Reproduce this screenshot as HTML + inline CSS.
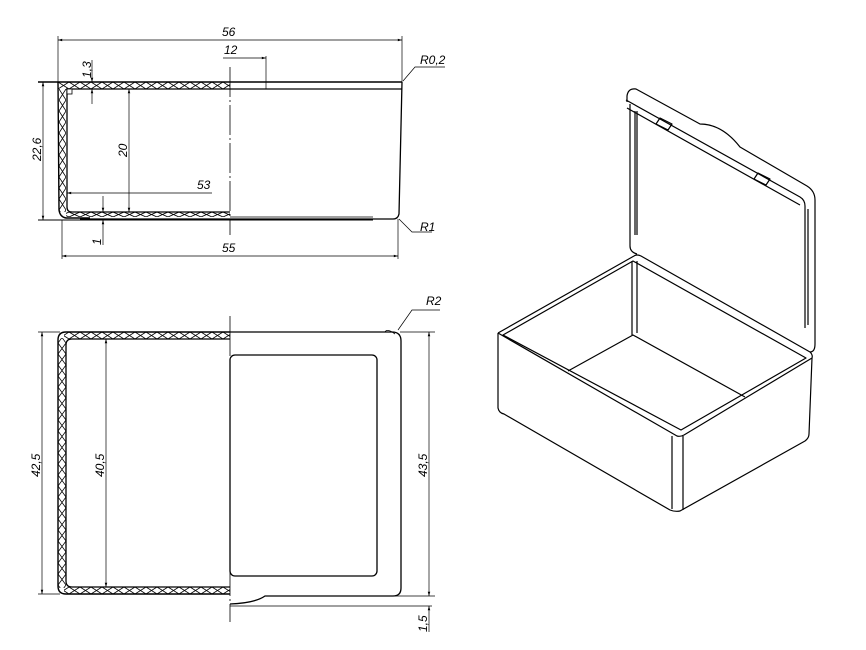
<!DOCTYPE html>
<html><head><meta charset="utf-8"><style>
html,body{margin:0;padding:0;background:#fff;}
svg{display:block;}
text{font-family:"Liberation Sans",sans-serif;font-size:12px;font-style:italic;fill:#000;}
</style></head><body>
<svg width="866" height="650" viewBox="0 0 866 650" xmlns="http://www.w3.org/2000/svg">
<defs>
<pattern id="hh" x="58" y="82" width="11" height="7" patternUnits="userSpaceOnUse">
<path d="M0 0L11 7M11 0L0 7" stroke="#000" stroke-width="0.8"/>
</pattern>
<pattern id="hh2" x="58" y="212" width="11" height="5" patternUnits="userSpaceOnUse">
<path d="M0 0L11 5M11 0L0 5" stroke="#000" stroke-width="0.8"/>
</pattern>
<pattern id="hv" x="59" y="89" width="7" height="11" patternUnits="userSpaceOnUse">
<path d="M0 0L7 11M7 0L0 11" stroke="#000" stroke-width="0.8"/>
</pattern>
<pattern id="bh" x="58" y="332" width="11" height="7" patternUnits="userSpaceOnUse">
<path d="M0 0L11 7M11 0L0 7" stroke="#000" stroke-width="0.8"/>
</pattern>
<pattern id="bh2" x="58" y="587" width="11" height="7" patternUnits="userSpaceOnUse">
<path d="M0 0L11 7M11 0L0 7" stroke="#000" stroke-width="0.8"/>
</pattern>
<pattern id="bv" x="58" y="332" width="8" height="11" patternUnits="userSpaceOnUse">
<path d="M0 0L8 11M8 0L0 11" stroke="#000" stroke-width="0.8"/>
</pattern>
<marker id="a" viewBox="0 0 10 10" refX="10" refY="5" markerWidth="8" markerHeight="6" orient="auto-start-reverse"><path d="M0 2L10 5L0 8z" fill="#000"/></marker>
</defs>
<g fill="none" stroke="#000" stroke-width="1">
<!-- TOP SECTION VIEW -->
<line x1="58" y1="40" x2="402" y2="40" marker-start="url(#a)" marker-end="url(#a)" stroke-width="0.7"/>
<line x1="58" y1="36" x2="58" y2="84" stroke-width="0.7"/>
<line x1="402" y1="36" x2="402" y2="82" stroke-width="0.7"/>
<line x1="223" y1="58" x2="266" y2="58" marker-end="url(#a)" stroke-width="0.7"/>
<line x1="266" y1="56" x2="266" y2="89" stroke-width="0.7"/>
<rect x="58" y="82" width="172" height="7" fill="url(#hh)" stroke="none"/>
<rect x="59" y="89" width="7" height="123" fill="url(#hv)" stroke="none"/>
<rect x="66" y="212" width="164" height="5" fill="url(#hh2)" stroke="none"/>
<line x1="38" y1="82" x2="402" y2="82" stroke-width="1.5"/>
<line x1="66" y1="89" x2="402" y2="89" stroke-width="1.3"/>
<path d="M58 82 L59 210 Q60 217 66 218 L90 218" stroke-width="1.4"/>
<path d="M67 89 L67 207 Q67 212 72 212 L230 212" stroke-width="1.3"/>
<rect x="67" y="89" width="5" height="5" stroke-width="0.8" fill="#fff"/>
<path d="M402 82 L399 214 Q398 219 393 219 L80 219" stroke-width="1.3"/>
<line x1="38" y1="220" x2="373" y2="220" stroke-width="1"/>
<line x1="230" y1="217" x2="373" y2="217" stroke-width="0.8"/>
<line x1="230" y1="67" x2="230" y2="235" stroke-width="0.8" stroke-dasharray="30 3 2 3"/>
<line x1="43" y1="82" x2="43" y2="220" marker-start="url(#a)" marker-end="url(#a)" stroke-width="0.7"/>
<line x1="92" y1="60" x2="92" y2="82" marker-end="url(#a)" stroke-width="0.7"/>
<line x1="92" y1="104" x2="92" y2="89" marker-end="url(#a)" stroke-width="0.7"/>
<line x1="129" y1="89" x2="129" y2="212" marker-start="url(#a)" marker-end="url(#a)" stroke-width="0.7"/>
<line x1="212" y1="193" x2="67" y2="193" marker-end="url(#a)" stroke-width="0.7"/>
<line x1="103" y1="196" x2="103" y2="212" marker-end="url(#a)" stroke-width="0.7"/>
<line x1="103" y1="245" x2="103" y2="220" marker-end="url(#a)" stroke-width="0.7"/>
<line x1="62" y1="256" x2="398" y2="256" marker-start="url(#a)" marker-end="url(#a)" stroke-width="0.7"/>
<line x1="62" y1="220" x2="62" y2="259" stroke-width="0.7"/>
<line x1="398" y1="219" x2="398" y2="259" stroke-width="0.7"/>
<polyline points="445,67 415,67 403,81" stroke-width="0.7"/>
<polyline points="432,232 412,232 399,219" stroke-width="0.7"/>
</g>
<text x="222" y="36">56</text>
<text x="224" y="54">12</text>
<text x="420" y="64">R0,2</text>
<text x="197" y="189">53</text>
<text x="222" y="252">55</text>
<text x="420" y="231">R1</text>
<text transform="translate(41,161) rotate(-90)">22,6</text>
<text transform="translate(91,78) rotate(-90)">1,3</text>
<text transform="translate(127,157) rotate(-90)">20</text>
<text transform="translate(101,245) rotate(-90)">1</text>

<g fill="none" stroke="#000" stroke-width="1">
<!-- BOTTOM VIEW -->
<rect x="64" y="332" width="166" height="7" fill="url(#bh)" stroke="none"/>
<rect x="64" y="587" width="166" height="7" fill="url(#bh2)" stroke="none"/>
<rect x="58" y="338" width="8" height="250" fill="url(#bv)" stroke="none"/>
<path d="M230 332 L66 332 Q58 332 58 340 L58 586 Q58 594 66 594 L230 594" stroke-width="1.4"/>
<path d="M230 339 L72 339 Q66 339 66 345 L66 581 Q66 587 72 587 L230 587" stroke-width="1.3" fill="#fff"/>
<path d="M230 332 L392 332 Q401 332 401 341 L401 588 Q401 596 393 596 L265 596 Q255 603 230 604" stroke-width="1.3"/>
<path d="M385 332 Q387 328 395 334" stroke-width="0.8"/>
<rect x="230" y="355" width="147" height="221" rx="5" stroke-width="1.3"/>
<line x1="230" y1="606" x2="432" y2="606" stroke-width="0.8"/>
<line x1="230" y1="316" x2="230" y2="622" stroke-width="0.8" stroke-dasharray="40 3 2 3"/>
<line x1="38" y1="332" x2="60" y2="332" stroke-width="0.7"/>
<line x1="38" y1="594" x2="60" y2="594" stroke-width="0.7"/>
<line x1="42" y1="332" x2="42" y2="594" marker-start="url(#a)" marker-end="url(#a)" stroke-width="0.7"/>
<line x1="106" y1="339" x2="106" y2="587" marker-start="url(#a)" marker-end="url(#a)" stroke-width="0.7"/>
<line x1="400" y1="332" x2="435" y2="332" stroke-width="0.7"/>
<line x1="380" y1="596" x2="435" y2="596" stroke-width="0.7"/>
<line x1="429" y1="332" x2="429" y2="596" marker-start="url(#a)" marker-end="url(#a)" stroke-width="0.7"/>
<line x1="429" y1="632" x2="429" y2="606" marker-end="url(#a)" stroke-width="0.7"/>
<polyline points="440,310 412,310 398,330" stroke-width="0.7"/>
</g>
<text x="426" y="305">R2</text>
<text transform="translate(40,477) rotate(-90)">42,5</text>
<text transform="translate(104,477) rotate(-90)">40,5</text>
<text transform="translate(427,477) rotate(-90)">43,5</text>
<text transform="translate(427,632) rotate(-90)">1,5</text>

<g fill="none" stroke="#000" stroke-width="1.2" stroke-linejoin="round">
<!-- ISO BOX -->
<path d="M498 333 L634 256 Q637 254 641 256 L810 352 Q813 355 812 358"/>
<path d="M498 333 L677 436 Q680 437 684 435 L812 358"/>
<path d="M503 335 L633 261 L806 358 L681 430 Z"/>
<line x1="632" y1="261" x2="632" y2="335"/>
<line x1="637" y1="261" x2="637" y2="333"/>
<polyline points="568,371 633,335 745,397"/>
<path d="M498 333 L498 408 Q499 413 504 414 L670 510 Q675 512 680 511 L805 441 Q809 438 809 434 L812 358"/>
<line x1="672" y1="436" x2="672" y2="509"/>
<line x1="683" y1="436" x2="683" y2="510"/>
<!-- LID -->
<path d="M637 254 Q630 252 630 246 L630 104"/>
<line x1="635" y1="111" x2="635" y2="235"/>
<line x1="637" y1="111" x2="637" y2="235"/>
<path d="M627 102 L627 96 Q628 88 636 89 L700 124 Q722 124 740 147 L807 186 Q815 191 815 200 L815 344 Q815 352 810 352"/>
<path d="M626 100 L800 197 Q805 200 805 206 L805 328"/>
<path d="M627 108 L800 205"/>
<line x1="808" y1="209" x2="808" y2="325"/>
<path d="M660 118 L672 124 L668 130 L656 124 Z"/>
<path d="M758 173 L770 179 L766 185 L754 179 Z"/>
</g>
</svg>
</body></html>
